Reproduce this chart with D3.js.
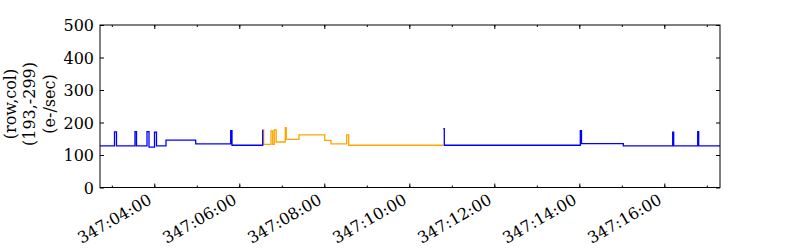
<!DOCTYPE html>
<html>
<head>
<meta charset="utf-8">
<script src="https://cdn.jsdelivr.net/npm/d3@7"></script>
<style>
  body { margin: 0; background: #fff; }
</style>
</head>
<body>
<div id="chart"></div>
<script>
// Rate for pixel (row,col) = (193,-299), time as DOY:HH:MM:SS
let blueTimes1 = ["347:02:43:21", "347:03:03:49", "347:03:06:38", "347:03:32:45", "347:03:34:52",
  "347:03:49:42", "347:03:52:31", "347:04:00:17", "347:04:03:06", "347:04:16:31",
  "347:04:58:27", "347:05:47:51", "347:05:49:42", "347:06:33:02"];
let blueValues1 = [128, 171, 128, 172, 128, 172, 124, 170, 128, 146, 134, 175, 130, 178];

let orangeTimes = ["347:06:33:45", "347:06:34:27", "347:06:44:45", "347:06:47:09", "347:06:49:25",
  "347:06:52:06", "347:07:04:56", "347:07:06:21", "347:07:24:17", "347:08:00:34",
  "347:08:09:28", "347:08:31:37", "347:08:34:27", "347:10:47:34"];
let orangeValues = [178, 133, 174, 133, 177, 140, 184, 148, 162, 145, 134, 162, 130, 130];

let blueTimes2 = ["347:10:48:00", "347:10:49:25", "347:14:01:25", "347:14:03:06", "347:15:02:07",
  "347:16:11:51", "347:16:13:16", "347:16:47:09", "347:16:48:34", "347:17:18:38"];
let blueValues2 = [181, 130, 175, 135, 128, 170, 128, 172, 128, 128];

let yTicks = [0, 100, 200, 300, 400, 500];
let yLabelLines = ["(row,col)", "(193,-299)", "(e-/sec)"];

let font = "'DejaVu Serif', serif";

let parseTime = d3.utcParse("%j:%H:%M:%S");
let formatTime = d3.utcFormat("%j:%H:%M");

function toPoints(times, values) {
  return times.map(function(t, i) {
    return { t: parseTime(t), v: values[i] };
  });
}

let series = [
  { color: "#ffa500", points: toPoints(orangeTimes, orangeValues) },
  { color: "#0000ff", points: toPoints(blueTimes1, blueValues1) },
  { color: "#0000ff", points: toPoints(blueTimes2, blueValues2) }
];

let width = 800;
let height = 250;
let margin = { top: 25, right: 80, bottom: 62.5, left: 100 };
let plotW = width - margin.left - margin.right;
let plotH = height - margin.top - margin.bottom;

let allPoints = series.flatMap(function(s) { return s.points; });

let x = d3.scaleUtc()
  .domain(d3.extent(allPoints, function(d) { return d.t; }))
  .range([0, plotW]);

let y = d3.scaleLinear()
  .domain([0, 500])
  .range([plotH, 0]);

let svg = d3.select("#chart").append("svg")
  .attr("width", width)
  .attr("height", height);

let g = svg.append("g")
  .attr("transform", "translate(" + margin.left + "," + margin.top + ")");

// lines
let line = d3.line()
  .x(function(d) { return x(d.t); })
  .y(function(d) { return y(d.v); })
  .curve(d3.curveStepAfter);

g.selectAll(".series")
  .data(series)
  .enter().append("path")
  .attr("class", "series")
  .attr("fill", "none")
  .attr("stroke", function(d) { return d.color; })
  .attr("stroke-width", 1.3)
  .attr("d", function(d) { return line(d.points); });

// ticks point inward on all four sides
function styleAxis(sel) {
  sel.select(".domain").remove();
  sel.selectAll("line").attr("stroke", "#000");
  sel.attr("font-family", font).attr("font-size", 16);
  sel.selectAll("text").attr("fill", "#000");
}

let majorX = d3.utcHour.every(2);
let minorX = d3.utcHour.every(1);

g.append("g")
  .attr("transform", "translate(0," + plotH + ")")
  .call(d3.axisBottom(x).ticks(minorX).tickSize(-2).tickFormat(""))
  .call(styleAxis);

let xAxis = g.append("g")
  .attr("transform", "translate(0," + plotH + ")")
  .call(d3.axisBottom(x).ticks(majorX).tickSize(-4).tickFormat(formatTime))
  .call(styleAxis);

xAxis.selectAll("text")
  .attr("x", 0)
  .attr("y", 0)
  .attr("dy", null)
  .attr("text-anchor", "end")
  .attr("transform", "translate(-1.9,15.5) rotate(-30)");

g.append("g")
  .call(d3.axisTop(x).ticks(minorX).tickSize(-2).tickFormat(""))
  .call(styleAxis);

g.append("g")
  .call(d3.axisTop(x).ticks(majorX).tickSize(-4).tickFormat(""))
  .call(styleAxis);

g.append("g")
  .call(d3.axisLeft(y).tickValues(yTicks).tickSize(-4).tickPadding(6))
  .call(styleAxis)
  .selectAll("text")
  .attr("dy", "0.36em");

g.append("g")
  .attr("transform", "translate(" + plotW + ",0)")
  .call(d3.axisRight(y).tickValues(yTicks).tickSize(-4).tickFormat(""))
  .call(styleAxis);

// frame
g.append("rect")
  .attr("width", plotW)
  .attr("height", plotH)
  .attr("fill", "none")
  .attr("stroke", "#000")
  .attr("stroke-width", 1);

// y label, three centred lines
svg.selectAll(".ylabel")
  .data(yLabelLines)
  .enter().append("text")
  .attr("class", "ylabel")
  .attr("font-family", font)
  .attr("font-size", 16)
  .attr("fill", "#000")
  .attr("text-anchor", "middle")
  .attr("transform", function(d, i) {
    return "translate(" + (15.5 + i * 19.5) + "," + 104 + ") rotate(-90)";
  })
  .text(function(d) { return d; });
</script>
</body>
</html>
